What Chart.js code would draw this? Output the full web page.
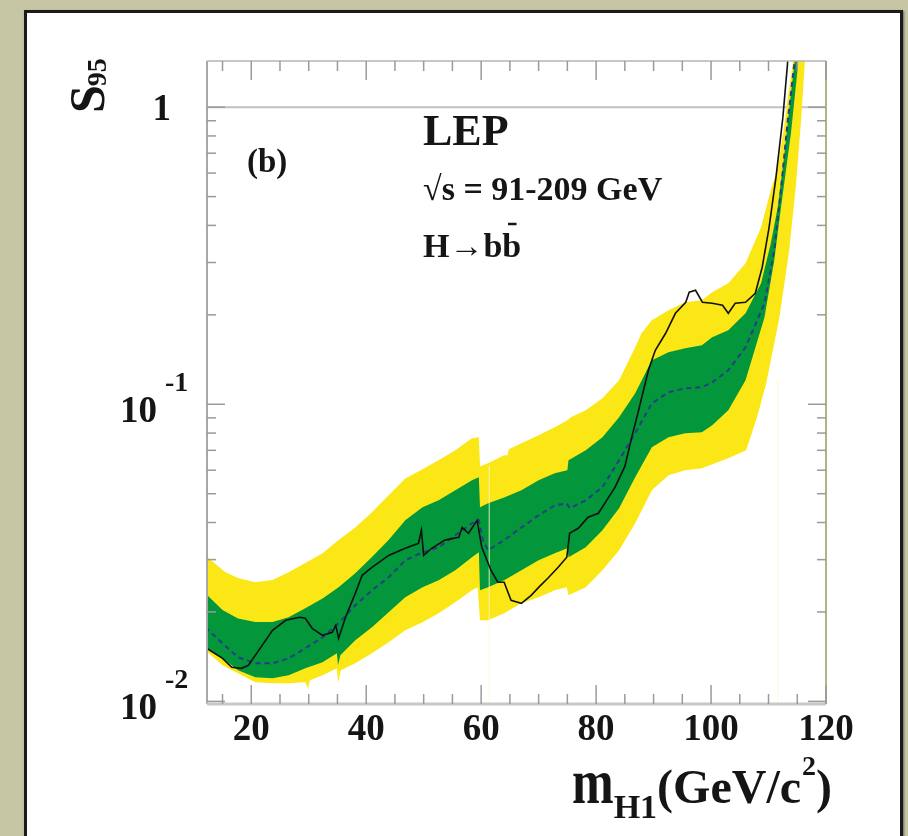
<!DOCTYPE html>
<html>
<head>
<meta charset="utf-8">
<script src="https://cdn.jsdelivr.net/npm/chart.js@4.4.1/dist/chart.umd.min.js"></script>
<style>
  html, body { margin: 0; padding: 0; width: 908px; height: 836px; overflow: hidden; background: #c6c6a5; }
  #panel { position: absolute; left: 24px; top: 10px; width: 873px; height: 870px; background: #fff; border: 3px solid #1b1b1b; box-shadow: 1px 1px 2px #666; }
  #c { position: absolute; left: 0; top: 0; }
</style>
</head>
<body>
<div id="panel"></div>
<canvas id="c" width="908" height="836"></canvas>
<script>
// ---- data (m_H1 in GeV, S95 values) ----
const mYellowTop = [12, 15.5, 17.7, 20.7, 23.7, 26.5, 29.4, 32.4, 35.2, 38.1, 41, 43.9, 46.8, 49.8, 52.6, 55.5, 58.4, 59.6, 59.8, 61.2, 64, 64.6, 64.8, 67, 70, 72.8, 75, 75.6, 78.2, 81.1, 84, 86.8, 87.9, 89.7, 92.6, 95.5, 98.4, 100.2, 103, 106, 108.7, 110.4, 111.6, 112.7, 113.3, 114.2, 115, 118];
const sYellowTop = [0.0310, 0.0272, 0.0260, 0.0252, 0.0256, 0.0272, 0.0292, 0.0315, 0.0349, 0.0385, 0.0433, 0.0494, 0.0563, 0.0604, 0.0648, 0.0700, 0.0768, 0.0774, 0.0618, 0.0633, 0.0673, 0.0673, 0.0706, 0.0739, 0.0786, 0.0837, 0.0883, 0.0904, 0.0955, 0.1048, 0.1205, 0.1556, 0.1734, 0.1918, 0.2072, 0.2205, 0.2239, 0.2383, 0.2555, 0.2982, 0.394, 0.525, 0.628, 0.856, 1.056, 1.396, 3, 30];

const mYellowBottom = [12, 15, 17.7, 20.7, 23.7, 26.5, 29.4, 29.9, 30.2, 32.4, 34.9, 35.1, 35.6, 38.1, 41, 43.9, 46.8, 49.8, 52.6, 55.5, 58.4, 59.4, 59.8, 61.2, 64, 67, 70, 72.8, 74.9, 75.2, 78.2, 81.1, 84, 86.8, 89.7, 92.6, 95.5, 98.4, 103, 106.1, 108, 109.6, 111.9, 113.6, 114.8, 115.7, 116.3, 117, 118];
const sYellowBottom = [0.01485, 0.01323, 0.01243, 0.0116, 0.01151, 0.01151, 0.0116, 0.01107, 0.01178, 0.01224, 0.01292, 0.0116, 0.01273, 0.01343, 0.01451, 0.01581, 0.01735, 0.01847, 0.01979, 0.02155, 0.02365, 0.0242, 0.01875, 0.01875, 0.01979, 0.02139, 0.0224, 0.02365, 0.0242, 0.02275, 0.0242, 0.02763, 0.03226, 0.03976, 0.0514, 0.05767, 0.0600, 0.0609, 0.0658, 0.0700, 0.0904, 0.1177, 0.1963, 0.3301, 0.5548, 0.9254, 1.396, 3, 30];

const mGreenTop = [12, 15, 17.7, 20.7, 23.7, 26.5, 29.4, 32.4, 35.2, 38.1, 41, 43.9, 46.8, 49.8, 52.6, 55.5, 58.4, 59.6, 59.8, 61.2, 64, 67, 70, 72.8, 75, 75.2, 78.2, 81.1, 84, 86.8, 89.7, 92.6, 95.5, 98.4, 100.2, 103, 106, 108.7, 110.4, 111.6, 112.7, 113.9, 114.5, 115.5, 118];
const sGreenTop = [0.0231, 0.0203, 0.0190, 0.0185, 0.0185, 0.0192, 0.0206, 0.0222, 0.0242, 0.0270, 0.0306, 0.0349, 0.0407, 0.0450, 0.0475, 0.0514, 0.0555, 0.0568, 0.0450, 0.0464, 0.0486, 0.0514, 0.0555, 0.0586, 0.0600, 0.0648, 0.0700, 0.0774, 0.0904, 0.1089, 0.1406, 0.1497, 0.1543, 0.158, 0.1681, 0.1775, 0.2024, 0.2555, 0.348, 0.4607, 0.6787, 1.115, 1.396, 3, 30];

const mGreenBottom = [12, 15, 17.7, 20.7, 23.7, 26.5, 29.4, 32.4, 34.9, 35.1, 35.5, 38.1, 41, 43.9, 46.8, 49.8, 52.6, 55.5, 58.4, 59.6, 59.8, 61.2, 64, 67, 70, 72.8, 75, 75.2, 78.2, 81.1, 84, 86.8, 89.7, 92.6, 95.5, 98.4, 100.2, 103, 106, 109.3, 111, 112.1, 113.9, 115.1, 116, 118];
const sGreenBottom = [0.01520, 0.01396, 0.01273, 0.01206, 0.01196, 0.01224, 0.01292, 0.01354, 0.01451, 0.01323, 0.0143, 0.01606, 0.01775, 0.01995, 0.0224, 0.0242, 0.02556, 0.02763, 0.03055, 0.03176, 0.02365, 0.0242, 0.02556, 0.02763, 0.02985, 0.03151, 0.03276, 0.03055, 0.03301, 0.03766, 0.04467, 0.05678, 0.07165, 0.0774, 0.0799, 0.0805, 0.0850, 0.0955, 0.1205, 0.1963, 0.3052, 0.4501, 0.8174, 1.364, 3, 30];

const mMedian = [12, 15, 17.7, 20.7, 23.7, 26.5, 29.4, 32.4, 35.2, 38.1, 41, 43.9, 46.8, 49.8, 52.6, 55.5, 58.4, 59.6, 60.3, 61.2, 64, 67, 70, 72.8, 74.9, 75.4, 78.2, 81.1, 84, 86.8, 89.7, 92.6, 95.5, 98.4, 100.2, 103, 106, 109.3, 111, 112.1, 113.3, 114.5, 115.5];
const sMedian = [0.01775, 0.01569, 0.01407, 0.01343, 0.01343, 0.01396, 0.01509, 0.01643, 0.01832, 0.02106, 0.02365, 0.02617, 0.02985, 0.03176, 0.03301, 0.03623, 0.03976, 0.0407, 0.0349, 0.03226, 0.0349, 0.0385, 0.0423, 0.0457, 0.0464, 0.0447, 0.0475, 0.0526, 0.0648, 0.0799, 0.1008, 0.1097, 0.1132, 0.1141, 0.1186, 0.1302, 0.1556, 0.2188, 0.3299, 0.5135, 0.8834, 1.406, 3];

const mObserved = [12, 15, 16.6, 18.3, 19.5, 21.3, 23.7, 26, 28.4, 29.4, 30.6, 32.4, 34.1, 34.7, 35.2, 36.4, 38.1, 39.3, 41, 43.9, 46.8, 49.1, 49.6, 50, 51.4, 53.7, 56.1, 56.7, 57.8, 59.3, 60.1, 61.7, 62.9, 64, 65.2, 67, 68.7, 70, 71.6, 73.4, 74.9, 75.4, 76.9, 78.6, 80.4, 81.5, 83.3, 85, 86.2, 87.4, 89.1, 90.3, 92.1, 93.8, 95.6, 96.2, 97.3, 98.5, 100.2, 102, 103, 104.2, 106, 107.7, 108.9, 110.1, 111.3, 112.5, 113.3, 114];
const sObserved = [0.01520, 0.01396, 0.01302, 0.01292, 0.01323, 0.01485, 0.01735, 0.01875, 0.01919, 0.01904, 0.01762, 0.01669, 0.01708, 0.01803, 0.01631, 0.01919, 0.0231, 0.02657, 0.02827, 0.0310, 0.03276, 0.03405, 0.03766, 0.0310, 0.03276, 0.0349, 0.03567, 0.0385, 0.0368, 0.0407, 0.0331, 0.02763, 0.02518, 0.02518, 0.02189, 0.02139, 0.02275, 0.0242, 0.02596, 0.02827, 0.03055, 0.0368, 0.03825, 0.04165, 0.04297, 0.0464, 0.0526, 0.0618, 0.0774, 0.0955, 0.1302, 0.152, 0.1734, 0.2024, 0.2205, 0.2383, 0.242, 0.2205, 0.2188, 0.2154, 0.2024, 0.2188, 0.2205, 0.2364, 0.2892, 0.394, 0.5812, 0.9254, 1.396, 3];

// faint vertical lines seen in the plot
const guideMass = [61.4, 111.6];
const guideTop = [0.062, 0.12];

// axes
const xMin = 12.3, xMax = 120;
const yMin = 0.0098, yMax = 1.43;
const xTickValues = [20, 40, 60, 80, 100, 120];
const xTickLabels = ['20', '40', '60', '80', '100', '120'];
const yTickValues = [1, 0.1, 0.01];
const yTickExp = ['', '-1', '-2'];

const YELLOW = '#fbe716';
const GREEN = '#03963a';
const FONT = "'Liberation Serif', 'DejaVu Serif', serif";
const INK = '#151515';

function pts(xs, ys) {
    return xs.map(function (x, i) { return {x: x, y: ys[i]}; });
}

let datasets = [
    {data: pts(mYellowTop, sYellowTop), fill: 1, backgroundColor: YELLOW, borderColor: 'rgba(0,0,0,0)', borderWidth: 0, order: 9},
    {data: pts(mYellowBottom, sYellowBottom), fill: false, borderColor: 'rgba(0,0,0,0)', borderWidth: 0, order: 8},
    {data: pts(mGreenTop, sGreenTop), fill: 3, backgroundColor: GREEN, borderColor: 'rgba(0,0,0,0)', borderWidth: 0, order: 7},
    {data: pts(mGreenBottom, sGreenBottom), fill: false, borderColor: 'rgba(0,0,0,0)', borderWidth: 0, order: 6}
];
for (let i = 0; i < guideMass.length; i++) { // thin light lines
    datasets.push({data: [{x: guideMass[i], y: yMin}, {x: guideMass[i], y: guideTop[i]}], fill: false,
        borderColor: 'rgba(250,250,200,0.85)', borderWidth: 1, order: 3});
}
datasets.push({data: pts(mMedian, sMedian), fill: false, borderColor: '#243f86', borderWidth: 2, borderDash: [5, 4], order: 1});
datasets.push({data: pts(mObserved, sObserved), fill: false, borderColor: '#111', borderWidth: 1.6, order: 0});

function seg(ctx, x1, y1, x2, y2) {
    ctx.beginPath(); ctx.moveTo(x1, y1); ctx.lineTo(x2, y2); ctx.stroke();
}
function txt(ctx, s, x, y, size, align) {
    ctx.font = 'bold ' + size + 'px ' + FONT;
    ctx.textAlign = align || 'left';
    ctx.fillText(s, x, y);
    return ctx.measureText(s).width;
}

const decor = {
    id: 'decor',
    beforeDatasetsDraw: function (chart) { // line at S95 = 1
        const ctx = chart.ctx, a = chart.chartArea, y = chart.scales.y;
        ctx.save();
        ctx.strokeStyle = '#c2c2c2'; ctx.lineWidth = 2;
        const p = y.getPixelForValue(1);
        seg(ctx, a.left, p, a.right, p);
        ctx.restore();
    },
    afterDatasetsDraw: function (chart) { // frame + inward ticks
        const ctx = chart.ctx, a = chart.chartArea, x = chart.scales.x, y = chart.scales.y;
        ctx.save();
        ctx.strokeStyle = '#a8a8a8'; ctx.lineWidth = 2;
        seg(ctx, a.left, a.top, a.left, a.bottom);
        ctx.strokeStyle = '#c8c8c8'; ctx.lineWidth = 3;
        seg(ctx, a.left, a.bottom, a.right, a.bottom);
        ctx.strokeStyle = '#b4b4b4'; ctx.lineWidth = 1.5;
        seg(ctx, a.left, a.top, a.right, a.top);
        ctx.strokeStyle = '#b1b583'; ctx.lineWidth = 2;
        seg(ctx, a.right, a.top, a.right, a.bottom);

        ctx.strokeStyle = '#9a9a9a'; ctx.lineWidth = 1.5;
        for (let v = 15; v <= xMax; v += 5) {
            const px = x.getPixelForValue(v);
            const len = v % 20 === 0 ? 19 : 10;
            seg(ctx, px, a.bottom, px, a.bottom - len);
            seg(ctx, px, a.top, px, a.top + len);
        }
        for (let e = -3; e <= 0; e++) {
            for (let k = 1; k <= 9; k++) {
                const v = k * Math.pow(10, e);
                if (v < yMin || v > yMax) continue;
                const py = y.getPixelForValue(v);
                const len = k === 1 ? 18 : 9;
                seg(ctx, a.left, py, a.left + len, py);
                seg(ctx, a.right, py, a.right - len, py);
            }
        }
        ctx.restore();
    },
    afterDraw: function (chart) { // labels and texts
        const ctx = chart.ctx, x = chart.scales.x, y = chart.scales.y;
        ctx.save();
        ctx.fillStyle = INK;
        ctx.textBaseline = 'alphabetic';

        // x tick labels
        for (let i = 0; i < xTickValues.length; i++) {
            txt(ctx, xTickLabels[i], x.getPixelForValue(xTickValues[i]), 740, 37, 'center');
        }
        // y tick labels
        for (let i = 0; i < yTickValues.length; i++) {
            const py = y.getPixelForValue(yTickValues[i]);
            if (yTickExp[i] === '') {
                txt(ctx, '1', 171, py + 13, 37, 'right');
            } else {
                txt(ctx, '10', 157, py + 18, 37, 'right');
                txt(ctx, yTickExp[i], 165, py - 13, 28, 'left');
            }
        }

        // y axis title, rotated
        ctx.save();
        ctx.translate(104, 113);
        ctx.rotate(-Math.PI / 2);
        const wS = txt(ctx, 'S', 0, 0, 50, 'left');
        txt(ctx, '95', wS - 1, 2, 28, 'left');
        ctx.restore();

        // x axis title
        let cx = 572;
        ctx.save();
        ctx.translate(cx, 803);
        ctx.scale(1, 1.25);
        const wm = txt(ctx, 'm', 0, 0, 50, 'left');
        ctx.restore();
        cx += wm;
        cx += txt(ctx, 'H1', cx, 818, 34, 'left');
        cx += txt(ctx, '(GeV/c', cx, 803, 48, 'left');
        cx += txt(ctx, '2', cx + 1, 775, 28, 'left') + 1;
        txt(ctx, ')', cx, 803, 48, 'left');

        // annotations
        txt(ctx, '(b)', 247, 172, 33, 'left');
        txt(ctx, 'LEP', 423, 145, 44, 'left');
        txt(ctx, '\u221As = 91-209 GeV', 423, 200, 34, 'left');
        const wHb = txt(ctx, 'H\u2192b', 423, 257, 34, 'left');
        const wb = txt(ctx, 'b', 423 + wHb, 257, 34, 'left');
        ctx.strokeStyle = INK; ctx.lineWidth = 2.5;
        seg(ctx, 423 + wHb + wb * 0.3, 224, 423 + wHb + wb * 0.75, 224);
        ctx.restore();
    }
};

new Chart(document.getElementById('c'), {
    type: 'line',
    data: {datasets: datasets},
    options: {
        responsive: false,
        animation: false,
        events: [],
        layout: {padding: {left: 207, top: 61, right: 82, bottom: 132}},
        elements: {point: {radius: 0}, line: {tension: 0}},
        plugins: {legend: {display: false}, tooltip: {enabled: false}},
        scales: {
            x: {type: 'linear', min: xMin, max: xMax, display: false},
            y: {type: 'logarithmic', min: yMin, max: yMax, display: false}
        }
    },
    plugins: [decor]
});
</script>
</body>
</html>
